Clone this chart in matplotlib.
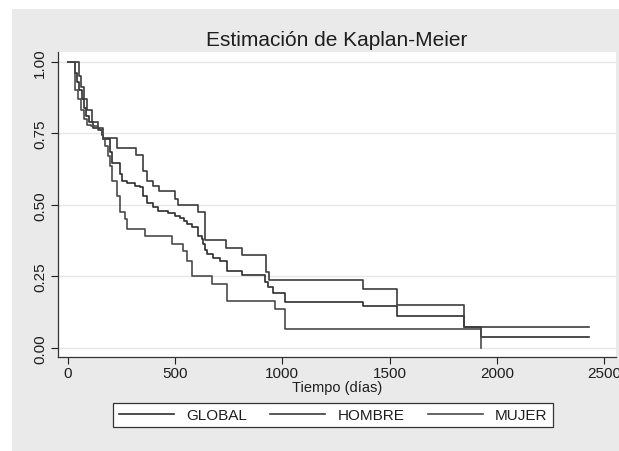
import matplotlib.pyplot as plt
from matplotlib.patches import Rectangle

# Kaplan-Meier step curves: times (days) and survival after each step
global_t = [0, 33, 45, 55, 65, 75, 85, 100, 120, 145, 160, 166, 197, 205, 243, 251, 277,
            313, 336, 352, 368, 399, 422, 469, 500, 523, 542, 555, 578, 609, 624, 632,
            640, 648, 679, 710, 741, 811, 919, 933, 958, 1013, 1375, 1533, 1847, 1926, 2429]
global_s = [1.0, 0.96, 0.93, 0.90, 0.87, 0.84, 0.81, 0.79, 0.77, 0.76, 0.745, 0.73, 0.684,
            0.646, 0.607, 0.584, 0.578, 0.566, 0.561, 0.531, 0.508, 0.491, 0.479, 0.473,
            0.462, 0.454, 0.444, 0.433, 0.421, 0.392, 0.381, 0.364, 0.341, 0.329, 0.316,
            0.304, 0.269, 0.254, 0.229, 0.212, 0.191, 0.159, 0.145, 0.112, 0.073, 0.037, 0.037]

hombre_t = [0, 54, 62, 77, 92, 112, 142, 166, 231, 317, 352, 368, 399, 427, 500, 515, 609,
            640, 736, 811, 924, 939, 1375, 1533, 1847, 2429]
hombre_s = [1.0, 0.95, 0.91, 0.87, 0.83, 0.79, 0.77, 0.735, 0.70, 0.675, 0.62, 0.585, 0.567,
            0.549, 0.52, 0.50, 0.476, 0.378, 0.349, 0.324, 0.265, 0.238, 0.205, 0.149,
            0.073, 0.073]

mujer_t = [0, 33, 50, 60, 75, 90, 110, 140, 160, 166, 174, 189, 197, 205, 228, 244, 267,
           275, 360, 485, 539, 555, 578, 671, 741, 966, 1013, 1926]
mujer_s = [1.0, 0.90, 0.87, 0.83, 0.80, 0.78, 0.775, 0.76, 0.745, 0.73, 0.707, 0.672, 0.636,
           0.584, 0.532, 0.474, 0.45, 0.416, 0.392, 0.363, 0.339, 0.304, 0.252, 0.224,
           0.165, 0.135, 0.068, 0.0]

y_ticks = [0, 0.25, 0.5, 0.75, 1.0]
x_ticks = [0, 500, 1000, 1500, 2000, 2500]

plt.rcParams['font.family'] = ['Liberation Sans', 'DejaVu Sans']

W, H = 619, 452
fig = plt.figure(figsize=(W / 100, H / 100), dpi=100)
fig.patch.set_facecolor('white')
# grey graph region (white strip on top and left, as in the source image)
fig.add_artist(Rectangle((12 / W, 0), 1 - 12 / W, (H - 10) / H, transform=fig.transFigure,
                         facecolor='#eaeaea', edgecolor='none', zorder=-10))

ax = fig.add_axes([58 / W, 1 - 358.3 / H, (615.7 - 58) / W, (358.3 - 53) / H])
ax.set_facecolor('white')

ax.step(global_t, global_s, where='post', color='#2e2e2e', lw=1.2, label='GLOBAL')
ax.step(hombre_t, hombre_s, where='post', color='#3c3c3c', lw=1.2, label='HOMBRE')
ax.step(mujer_t, mujer_s, where='post', color='#4a4a4a', lw=1.2, label='MUJER')

ax.set_xlim(-45, 2554)
ax.set_ylim(-0.0325, 1.034)
ax.set_yticks(y_ticks)
ax.set_yticklabels(['%.2f' % v for v in y_ticks], rotation=90, va='center')
ax.set_xticks(x_ticks)
ax.tick_params(axis='both', labelsize=11, colors='#1e1e1e', length=5, width=0.8)
ax.tick_params(axis='y', pad=3)
ax.tick_params(axis='x', pad=1.5)
ax.grid(axis='y', color='#e6e6e6', lw=1.0)
ax.set_axisbelow(True)

for side in ['top', 'right']:
    ax.spines[side].set_visible(False)
for side in ['left', 'bottom']:
    ax.spines[side].set_color('#333333')
    ax.spines[side].set_linewidth(0.9)

ax.set_xlabel('Tiempo (días)', fontsize=10.5, labelpad=0, color='#1e1e1e')
ax.set_title('Estimación de Kaplan-Meier', fontsize=15, pad=5, color='#1e1e1e')

leg = fig.legend(loc='lower left', ncol=3, mode='expand', fontsize=11,
                 bbox_to_anchor=(105.7 / W, 1 - 436 / H, (560.7 - 105.7) / W, (436 - 407.3) / H),
                 handlelength=3.6, handletextpad=0.8, borderpad=0.35, fancybox=False,
                 framealpha=1, edgecolor='#333333')
leg.get_frame().set_linewidth(0.9)
for txt in leg.get_texts():
    txt.set_color('#1e1e1e')

fig.savefig('out.png', dpi=100)
